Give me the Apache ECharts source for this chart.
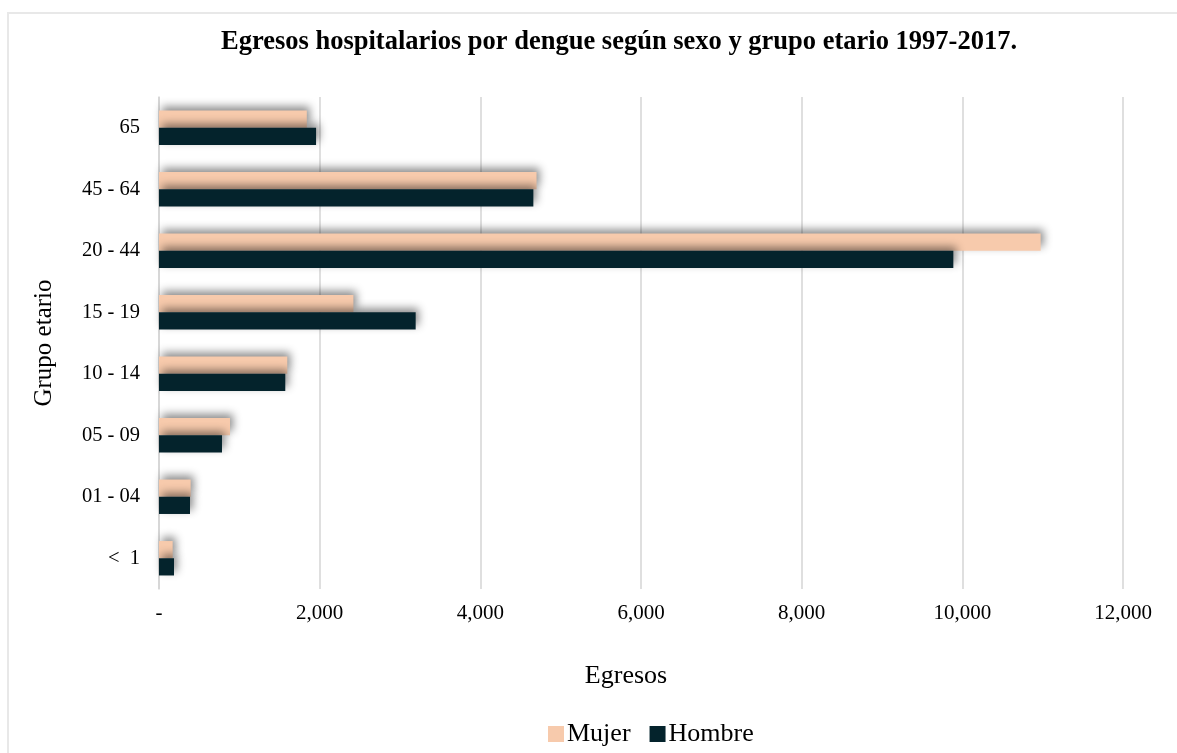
<!DOCTYPE html>
<html>
<head>
<meta charset="utf-8">
<script src="https://cdn.jsdelivr.net/npm/echarts@6/dist/echarts.min.js"></script>
<style>
  html, body { margin: 0; padding: 0; background: #fff; }
  #chart { width: 1177px; height: 753px; }
</style>
</head>
<body>
<div id="chart"></div>
<script>
// Age groups, bottom to top on the category axis
const ageGroups = ['<  1', '01 - 04', '05 - 09', '10 - 14', '15 - 19', '20 - 44', '45 - 64', '65'];
// Hospital discharges by sex
const mujer  = [170, 394, 884, 1597, 2420, 10975, 4700, 1840];
const hombre = [187, 386, 784, 1572, 3195, 9888, 4660, 1955];
const xTicks = [0, 2000, 4000, 6000, 8000, 10000, 12000];

const serif = '"Liberation Serif", "DejaVu Serif", serif';
const barShadow = {
  shadowBlur: 8,
  shadowColor: 'rgba(0,0,0,0.45)',
  shadowOffsetX: 3,
  shadowOffsetY: -4
};

const chart = echarts.init(document.getElementById('chart'));
chart.setOption({
  animation: false,
  backgroundColor: '#fff',
  graphic: [{
    type: 'rect',
    shape: { x: 8, y: 13, width: 1180, height: 760 },
    style: { fill: 'none', stroke: '#e8e8e8', lineWidth: 2 },
    silent: true
  }],
  title: {
    text: 'Egresos hospitalarios por dengue según sexo y grupo etario 1997-2017.',
    left: 614, top: 24, textAlign: 'center',
    textStyle: { fontFamily: serif, fontSize: 26.5, fontWeight: 'bold', color: '#000' }
  },
  legend: {
    bottom: 1, left: 543,
    itemWidth: 16, itemHeight: 16, itemGap: 19,
    icon: 'rect',
    textStyle: { fontFamily: serif, fontSize: 26, color: '#000', padding: [0, 0, 0, -2] },
    data: ['Mujer', 'Hombre']
  },
  grid: { left: 159, right: 54, top: 97, bottom: 164 },
  xAxis: {
    type: 'value', min: 0, max: 12000, interval: 2000,
    name: 'Egresos', nameLocation: 'middle', nameGap: 74,
    nameTextStyle: { fontFamily: serif, fontSize: 26, color: '#000', padding: [0, 30, 0, 0] },
    axisLine: { show: false }, axisTick: { show: false },
    axisLabel: {
      fontFamily: serif, fontSize: 21, color: '#000', margin: 14,
      formatter: v => xTicks.includes(v) ? (v === 0 ? '-' : v.toLocaleString('en-US')) : ''
    },
    splitLine: { lineStyle: { color: '#d4d4d4', width: 1.5 } }
  },
  yAxis: {
    type: 'category', data: ageGroups,
    name: 'Grupo etario', nameLocation: 'middle', nameGap: 102, nameRotate: 90,
    nameTextStyle: { fontFamily: serif, fontSize: 25, color: '#000' },
    axisLine: { show: true, lineStyle: { color: '#d4d4d4', width: 1.5 } },
    axisTick: { show: false },
    axisLabel: { fontFamily: serif, fontSize: 20.5, color: '#000', margin: 19 }
  },
  series: [
    {
      name: 'Mujer', type: 'bar', data: mujer,
      barGap: '0%', barCategoryGap: '44%',
      itemStyle: Object.assign({ color: '#F7CAAC' }, barShadow)
    },
    {
      name: 'Hombre', type: 'bar', data: hombre,
      barGap: '0%', barCategoryGap: '44%',
      itemStyle: Object.assign({ color: '#04232C' }, barShadow)
    }
  ]
});
</script>
</body>
</html>
